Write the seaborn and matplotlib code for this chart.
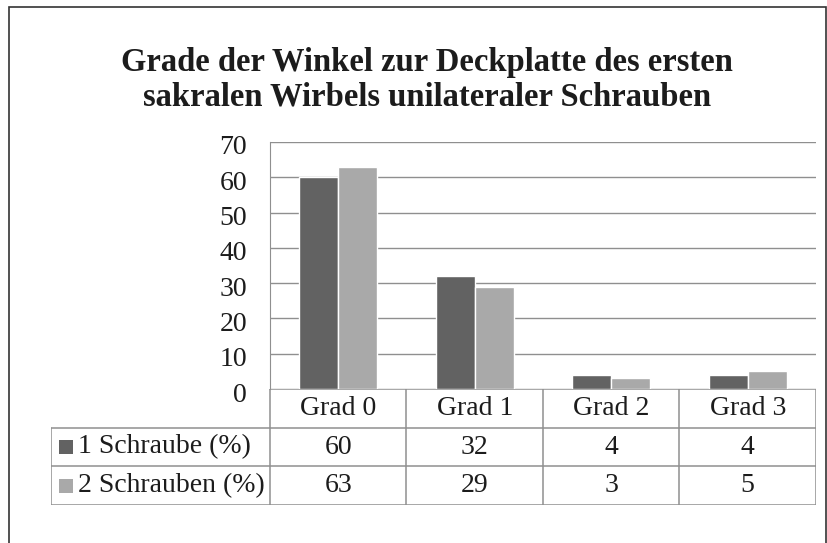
# Bar chart with a data table underneath, in the style of an Excel chart
import matplotlib
matplotlib.use("Agg")
import matplotlib.pyplot as plt
import matplotlib.transforms as mtransforms
from matplotlib.patches import Rectangle
import pandas as pd
import seaborn as sns

# Data
categories = ["Grad 0", "Grad 1", "Grad 2", "Grad 3"]
series_names = ["1 Schraube (%)", "2 Schrauben (%)"]
one_screw = [60, 32, 4, 4]
two_screws = [63, 29, 3, 5]
y_ticks = [0, 10, 20, 30, 40, 50, 60, 70]
title = "Grade der Winkel zur Deckplatte des ersten\nsakralen Wirbels unilateraler Schrauben"

colors = ["#626262", "#a9a9a9"]
grid_col = "#8f8f8f"
text_col = "#1c1c1c"
fs = 20

df = pd.DataFrame({
    "Grad": categories * 2,
    "Wert": one_screw + two_screws,
    "Serie": [series_names[0]] * 4 + [series_names[1]] * 4,
})

sns.set_style("white")
plt.rcParams["font.family"] = ["Liberation Serif", "DejaVu Serif"]

W, H = 828, 543
fig = plt.figure(figsize=(W / 100, H / 100), dpi=100)

# outer frame of the chart
fig.patches.append(Rectangle((9 / W, -0.01), (826 - 9) / W, 1 - 7 / H + 0.01,
                             transform=fig.transFigure, fill=False,
                             edgecolor="#333333", linewidth=1.2))

# plot area in pixels
left, right, top, zero = 270, 816, 142, 389
ax = fig.add_axes([left / W, 1 - zero / H, (right - left) / W, (zero - top) / H])

sns.barplot(data=df, x="Grad", y="Wert", hue="Serie", palette=colors,
            width=0.57, saturation=1, ax=ax, legend=False)
ax.set_xlim(-0.5, 3.5)
ax.set_ylim(0, 70)
ax.set_yticks(y_ticks)
ax.yaxis.grid(True, color=grid_col, linewidth=1)
ax.set_axisbelow(True)
for s in ["top", "right", "bottom"]:
    ax.spines[s].set_visible(False)
ax.spines["left"].set_color(grid_col)
ax.tick_params(axis="y", length=0, pad=16.5, labelsize=fs, labelcolor=text_col)
ax.set_xticks([])
ax.set_xlabel("")
ax.set_ylabel("")

# the numbers sit slightly below their gridlines in the original
off = mtransforms.ScaledTranslation(0, -3 / 100, fig.dpi_scale_trans)
for t in ax.get_yticklabels():
    t.set_transform(t.get_transform() + off)

fig.text(427 / W, 1 - 80 / H, title, ha="center", va="center",
         fontsize=23.5, fontweight="bold", color=text_col, linespacing=1.15)

# data table under the chart
tab_left, tab_bottom = 51, 505
col_w = (right - left) / 4
lab_span = (left - tab_left) / col_w
tax = fig.add_axes([tab_left / W, 1 - tab_bottom / H, (right - tab_left) / W,
                    (tab_bottom - zero) / H])
tax.set_xlim(-0.5 - lab_span, 3.5)
tax.set_ylim(0, 3)
tax.axis("off")

lw = 1.1
# horizontal lines
tax.plot([-0.5, 3.5], [3, 3], color=grid_col, lw=lw)
for yy in [2, 1, 0]:
    tax.plot([-0.5 - lab_span, 3.5], [yy, yy], color=grid_col, lw=lw)
# vertical lines
tax.plot([-0.5 - lab_span] * 2, [0, 2], color=grid_col, lw=lw)
for i in range(len(categories) + 1):
    tax.plot([i - 0.5] * 2, [0, 3], color=grid_col, lw=lw)

for i, c in enumerate(categories):
    tax.text(i, 2.5, c, ha="center", va="center", fontsize=fs, color=text_col)

rows = [one_screw, two_screws]
for r, (name, vals) in enumerate(zip(series_names, rows)):
    yy = 1.5 - r
    x0 = -0.5 - lab_span
    tax.add_patch(Rectangle((x0 + 8 / col_w, yy - 0.18), 14 / col_w, 0.36,
                            facecolor=colors[r], edgecolor="none"))
    tax.text(x0 + 27 / col_w, yy, name, ha="left", va="center",
             fontsize=fs, color=text_col)
    for i, v in enumerate(vals):
        tax.text(i, yy, str(v), ha="center", va="center", fontsize=fs,
                 color=text_col)

fig.savefig("out.png", dpi=100)
